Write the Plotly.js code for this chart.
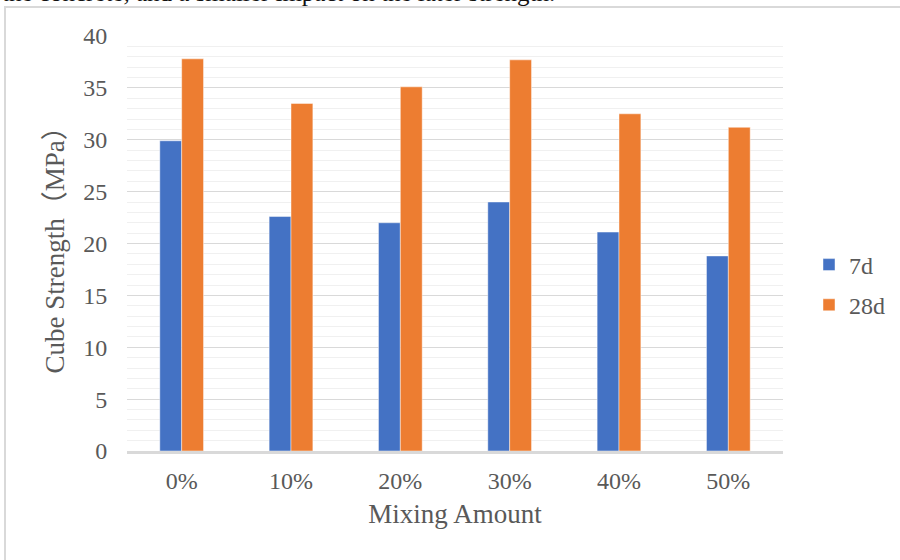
<!DOCTYPE html>
<html>
<head>
<meta charset="utf-8">
<script src="https://cdn.plot.ly/plotly-3.0.1.min.js"></script>
<style>
  html, body { margin: 0; padding: 0; background: #fff; }
  #wrap { position: relative; width: 900px; height: 560px; overflow: hidden; }
  #chart { width: 900px; height: 560px; }
  #frame {
    position: absolute; left: 4px; top: 6px; right: -10px; bottom: -10px;
    border-left: 2px solid #d9d9d9; border-top: 2px solid #d9d9d9;
    pointer-events: none;
  }
</style>
</head>
<body>
<div id="wrap">
  <div id="chart"></div>
  <div id="frame"></div>
</div>
<script>
// Cube strength of concrete at different mixing amounts
const mixingAmounts = ['0%', '10%', '20%', '30%', '40%', '50%'];
const strength7d  = [29.9, 22.6, 22.0, 24.0, 21.1, 18.8];
const strength28d = [37.8, 33.5, 35.1, 37.7, 32.5, 31.2];
const seriesNames = ['7d', '28d'];
const captionText = 'the concrete, and a smaller impact on the later strength.';

const serif = 'Liberation Serif, Times New Roman, serif';
const serifCjk = 'Liberation Serif, "Noto Sans CJK SC", serif';
const grey = '#595959';

const traces = [
  {
    type: 'bar', name: seriesNames[0], x: mixingAmounts, y: strength7d,
    legendgroup: 'a',
    marker: { color: '#4472C4', line: { color: 'rgba(255,255,255,0.45)', width: 1 } },
    hoverinfo: 'x+y+name'
  },
  {
    type: 'bar', name: seriesNames[1], x: mixingAmounts, y: strength28d,
    legendgroup: 'b',
    marker: { color: '#ED7D31', line: { color: 'rgba(255,255,255,0.45)', width: 1 } },
    hoverinfo: 'x+y+name'
  }
];

const layout = {
  width: 900, height: 560,
  margin: { l: 127, r: 117, t: 36, b: 109, autoexpand: false },
  paper_bgcolor: '#ffffff', plot_bgcolor: '#ffffff',
  font: { family: serif, color: grey, size: 24 },
  barmode: 'group', bargap: 0.6, bargroupgap: 0,
  xaxis: {
    type: 'category',
    showgrid: false,
    showline: true, linecolor: '#d9d9d9', linewidth: 3,
    zeroline: false,
    ticks: 'outside', ticklen: 6, tickcolor: 'rgba(0,0,0,0)',
    tickfont: { family: serif, size: 24, color: grey },
    title: { text: 'Mixing Amount', font: { family: serif, size: 27, color: grey }, standoff: 12 }
  },
  yaxis: {
    range: [0, 40], dtick: 5, tick0: 0,
    showgrid: true, gridcolor: '#d9d9d9', gridwidth: 1,
    minor: { dtick: 1, showgrid: true, gridcolor: '#f0f0f0', gridwidth: 1 },
    zeroline: false, showline: false,
    ticks: 'outside', ticklen: 14, tickcolor: 'rgba(0,0,0,0)',
    tickfont: { family: serif, size: 24, color: grey },
    title: { text: 'Cube Strength（MPa）', font: { family: serifCjk, size: 27, color: grey }, standoff: 10 }
  },
  showlegend: true,
  legend: {
    xref: 'container', x: 809 / 900, xanchor: 'left', y: 0.4, yanchor: 'middle',
    font: { family: serif, size: 24, color: grey },
    tracegroupgap: 6, itemwidth: 30,
    bgcolor: 'rgba(0,0,0,0)'
  },
  annotations: [
    {
      text: captionText, xref: 'paper', yref: 'paper',
      x: -127 / 656, xanchor: 'left',
      y: 1 + 43 / 415, yanchor: 'middle',
      showarrow: false,
      font: { family: serif, size: 25, color: '#111111' }
    }
  ]
};

Plotly.newPlot('chart', traces, layout, { displayModeBar: false, staticPlot: true });
</script>
</body>
</html>
